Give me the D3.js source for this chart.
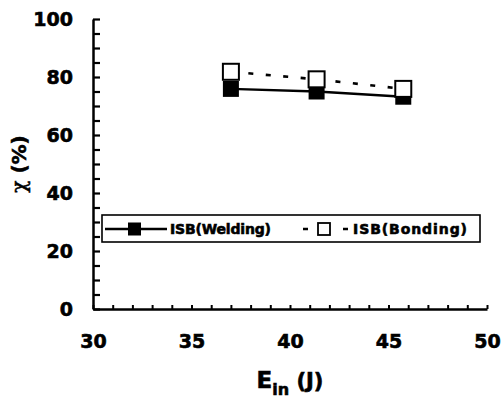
<!DOCTYPE html>
<html><head><meta charset="utf-8">
<script src="https://cdn.jsdelivr.net/npm/d3@7"></script>
<style>
body{margin:0;background:#fff;}
svg{display:block;}
text{font-family:"DejaVu Sans",sans-serif;font-weight:bold;fill:#000;stroke:#000;stroke-width:0.6px;}
</style></head>
<body>
<svg id="c" width="503" height="399"></svg>
<script>
const energy = [37.0, 41.35, 45.75];
const welding = [75.9, 75.0, 73.2];
const bonding = [81.8, 79.2, 75.9];
const seriesNames = ["ISB(Welding)", "ISB(Bonding)"];
const xTicks = [30, 35, 40, 45, 50];
const yTicks = [0, 20, 40, 60, 80, 100];

const svg = d3.select("#c");
const L = 93, R = 487, T = 19, B = 309;
const x = d3.scaleLinear().domain([30, 50]).range([L, R]);
const y = d3.scaleLinear().domain([0, 100]).range([B, T]);

// y axis minor ticks (inward)
const gy = svg.append("g").attr("transform", `translate(${L},0)`)
  .call(d3.axisLeft(y).tickValues(d3.range(0, 101, 5)).tickSizeInner(-7).tickSizeOuter(0).tickFormat(""));
gy.select(".domain").attr("stroke-width", 2.5);
gy.selectAll(".tick line").attr("stroke-width", 2.2);

// y labels
const gyl = svg.append("g").attr("transform", `translate(${L},0)`)
  .call(d3.axisLeft(y).tickValues(yTicks).tickSize(0).tickPadding(20));
gyl.select(".domain").remove();
gyl.selectAll("text").style("font-size", "19px").attr("font-family", "DejaVu Sans").attr("font-weight", "bold")
  .attr("fill", "#000").attr("stroke", "#000").attr("stroke-width", 0.7);

// x axis minor ticks (inward)
const gx = svg.append("g").attr("transform", `translate(0,${B})`)
  .call(d3.axisBottom(x).tickValues(d3.range(30, 51, 1)).tickSizeInner(-4).tickSizeOuter(0).tickFormat(""));
gx.select(".domain").attr("stroke-width", 2.5);
gx.selectAll(".tick line").attr("stroke-width", 2);

const gxl = svg.append("g").attr("transform", `translate(0,${B})`)
  .call(d3.axisBottom(x).tickValues(xTicks).tickSize(0).tickPadding(26));
gxl.select(".domain").remove();
gxl.selectAll("text").style("font-size", "19px").attr("font-family", "DejaVu Sans").attr("font-weight", "bold")
  .attr("fill", "#000").attr("stroke", "#000").attr("stroke-width", 0.7);

// axis titles
svg.append("text").attr("transform", "translate(26,164) rotate(-90)")
  .attr("text-anchor", "middle").style("font-size", "20px")
  .html('<tspan font-family="DejaVu Serif" font-weight="normal">χ</tspan> (%)');
const xt = svg.append("text").attr("x", 290).attr("y", 388).attr("text-anchor", "middle").style("font-size", "23px");
xt.append("tspan").text("E");
xt.append("tspan").attr("dy", 7).style("font-size", "16px").text("in");
xt.append("tspan").attr("dy", -7).style("font-size", "21px").text(" (J)");

// lines
const pts = (ys) => energy.map((e, i) => [e, ys[i]]);
const line = d3.line().x(d => x(d[0])).y(d => y(d[1]));
svg.append("path").attr("d", line(pts(bonding))).attr("fill", "none").attr("stroke", "#000")
  .attr("stroke-width", 2.6).attr("stroke-dasharray", "5,12.5");
svg.append("path").attr("d", line(pts(welding))).attr("fill", "none").attr("stroke", "#000").attr("stroke-width", 2.4);

const S = 16;
svg.selectAll("rect.w").data(pts(welding)).join("rect").attr("class", "w")
  .attr("x", d => x(d[0]) - S / 2).attr("y", d => y(d[1]) - S / 2).attr("width", S).attr("height", S)
  .attr("fill", "#000");
svg.selectAll("rect.b").data(pts(bonding)).join("rect").attr("class", "b")
  .attr("x", d => x(d[0]) - S / 2).attr("y", d => y(d[1]) - S / 2).attr("width", S).attr("height", S)
  .attr("fill", "#fff").attr("stroke", "#000").attr("stroke-width", 2);

// legend
const lg = svg.append("g");
lg.append("rect").attr("x", 102).attr("y", 215).attr("width", 378).attr("height", 27)
  .attr("fill", "#fff").attr("stroke", "#000").attr("stroke-width", 1.6);
const ly = 229;
lg.append("line").attr("x1", 105).attr("x2", 167).attr("y1", ly).attr("y2", ly).attr("stroke", "#000").attr("stroke-width", 2.4);
lg.append("rect").attr("x", 128).attr("y", ly - 6.5).attr("width", 13).attr("height", 13).attr("fill", "#000");
lg.append("text").attr("x", 170).attr("y", ly + 5).style("font-size", "14px").attr("textLength", 101).text(seriesNames[0]);
lg.append("line").attr("x1", 303).attr("x2", 348).attr("y1", ly).attr("y2", ly).attr("stroke", "#000")
  .attr("stroke-width", 2.4).attr("stroke-dasharray", "5,35");
lg.append("rect").attr("x", 318).attr("y", ly - 6).attr("width", 12).attr("height", 12)
  .attr("fill", "#fff").attr("stroke", "#000").attr("stroke-width", 1.8);
lg.append("text").attr("x", 353).attr("y", ly + 5).style("font-size", "14px").attr("textLength", 114).text(seriesNames[1]);
</script>
</body></html>
